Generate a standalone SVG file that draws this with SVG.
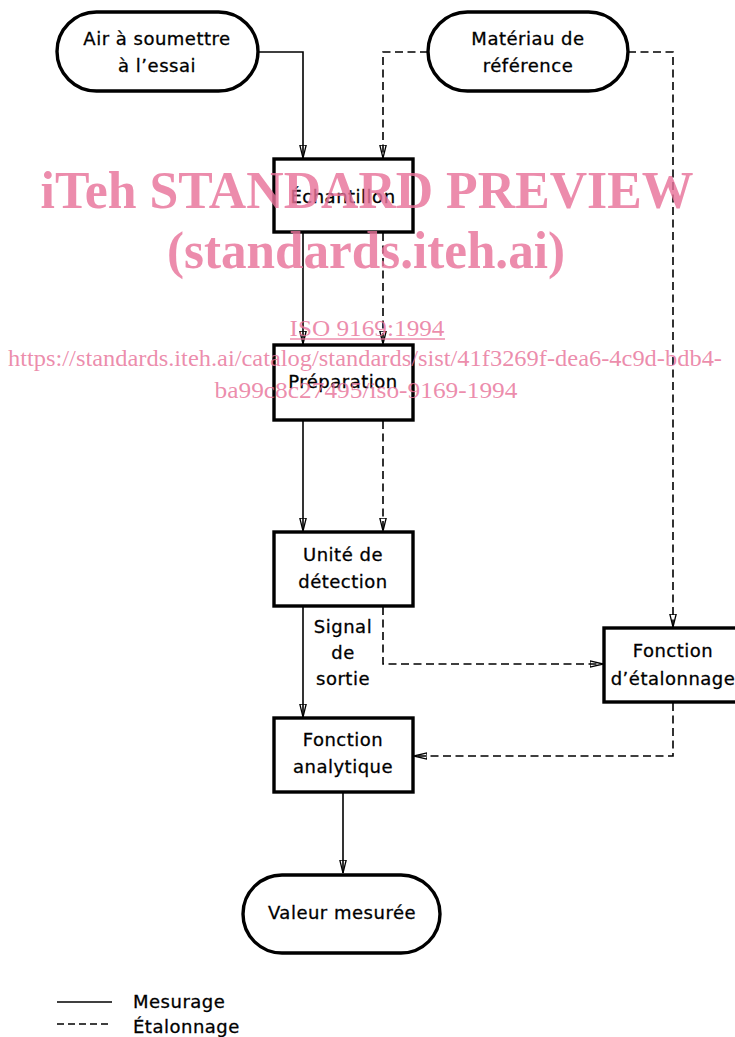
<svg xmlns="http://www.w3.org/2000/svg" width="735" height="1037" viewBox="0 0 735 1037">
<style>
.box{fill:#fff;stroke:#000;stroke-width:3.4}
.t{font-family:"DejaVu Sans","Liberation Sans",sans-serif;font-size:18px;letter-spacing:0.5px;fill:#000;stroke:#000;stroke-width:0.3;text-anchor:middle}
.tl{font-family:"DejaVu Sans","Liberation Sans",sans-serif;font-size:18px;letter-spacing:0.5px;fill:#000;stroke:#000;stroke-width:0.3}
.c{fill:none;stroke:#000;stroke-width:1.6}
.d{fill:none;stroke:#000;stroke-width:1.6;stroke-dasharray:8 4.5}
.wm{font-family:"Liberation Serif","Times New Roman",serif;fill:#e8739a;fill-opacity:0.82;text-anchor:middle}
</style>
<defs>
<marker id="ar" viewBox="0 0 14 8" refX="13" refY="4" markerWidth="14" markerHeight="8" markerUnits="userSpaceOnUse" orient="auto">
<path d="M0,0.8 L13,4 L0,7.2 Z" fill="none" stroke="#000" stroke-width="1.3"/>
</marker>
</defs>
<rect width="735" height="1037" fill="#fff"/>
<g id="connectors">
<path class="c" d="M258,52 H303 V158" marker-end="url(#ar)"/>
<path class="d" d="M428,52 H383 V158" marker-end="url(#ar)"/>
<path class="d" d="M628,52 H673 V627" marker-end="url(#ar)"/>
<path class="c" d="M303,233 V344" marker-end="url(#ar)"/>
<path class="d" d="M383,233 V344" marker-end="url(#ar)"/>
<path class="c" d="M303,421 V531" marker-end="url(#ar)"/>
<path class="d" d="M383,421 V531" marker-end="url(#ar)"/>
<path class="c" d="M303,607 V717" marker-end="url(#ar)"/>
<path class="d" d="M383,607 V664 H603" marker-end="url(#ar)"/>
<path class="d" d="M673,703 V756 H414" marker-end="url(#ar)"/>
<path class="c" d="M343,793 V873" marker-end="url(#ar)"/>
</g>
<g id="air">
<rect class="box" x="57" y="12" width="201" height="79" rx="39.5"/>
<text class="t" x="157" y="45">Air à soumettre</text>
<text class="t" x="157" y="72">à l’essai</text>
</g>
<g id="materiau">
<rect class="box" x="428" y="12" width="200" height="79" rx="39.5"/>
<text class="t" x="528" y="45">Matériau de</text>
<text class="t" x="528" y="72">référence</text>
</g>
<g id="echantillon">
<rect class="box" x="274" y="159" width="139" height="73"/>
<text class="t" x="343" y="203">Échantillon</text>
</g>
<g id="preparation">
<rect class="box" x="274" y="345" width="139" height="75"/>
<text class="t" x="343" y="388">Préparation</text>
</g>
<g id="detection">
<rect class="box" x="274" y="532" width="139" height="74"/>
<text class="t" x="343" y="561">Unité de</text>
<text class="t" x="343" y="588">détection</text>
</g>
<g id="signal">
<text class="t" x="343" y="633">Signal</text>
<text class="t" x="343" y="659">de</text>
<text class="t" x="343" y="685">sortie</text>
</g>
<g id="etalonnage">
<rect class="box" x="604" y="628" width="145" height="74"/>
<text class="t" x="673" y="657">Fonction</text>
<text class="t" x="673" y="685">d’étalonnage</text>
</g>
<g id="analytique">
<rect class="box" x="274" y="718" width="139" height="74"/>
<text class="t" x="343" y="746">Fonction</text>
<text class="t" x="343" y="773">analytique</text>
</g>
<g id="valeur">
<rect class="box" x="243" y="875" width="197" height="78" rx="39"/>
<text class="t" x="342" y="919">Valeur mesurée</text>
</g>
<g id="legend">
<line class="c" x1="57" y1="1002" x2="112" y2="1002"/>
<text class="tl" x="133" y="1008">Mesurage</text>
<line class="d" x1="57" y1="1024" x2="112" y2="1024" style="stroke-dasharray:7 4"/>
<text class="tl" x="133" y="1033">Étalonnage</text>
</g>
<g id="watermark">
<text class="wm" x="367" y="208" font-size="52" font-weight="bold" textLength="653" lengthAdjust="spacingAndGlyphs">iTeh STANDARD PREVIEW</text>
<text class="wm" x="366" y="268" font-size="52" font-weight="bold" textLength="398" lengthAdjust="spacingAndGlyphs">(standards.iteh.ai)</text>
<text class="wm" x="367" y="336" font-size="24" textLength="155" lengthAdjust="spacingAndGlyphs">ISO 9169:1994</text>
<line x1="290" y1="339" x2="445" y2="339" stroke="#e8739a" stroke-opacity="0.82" stroke-width="1.5"/>
<text class="wm" x="365" y="366" font-size="24" textLength="714" lengthAdjust="spacingAndGlyphs">https://standards.iteh.ai/catalog/standards/sist/41f3269f-dea6-4c9d-bdb4-</text>
<text class="wm" x="366" y="398" font-size="24" textLength="303" lengthAdjust="spacingAndGlyphs">ba99c8c27495/iso-9169-1994</text>
</g>
</svg>
